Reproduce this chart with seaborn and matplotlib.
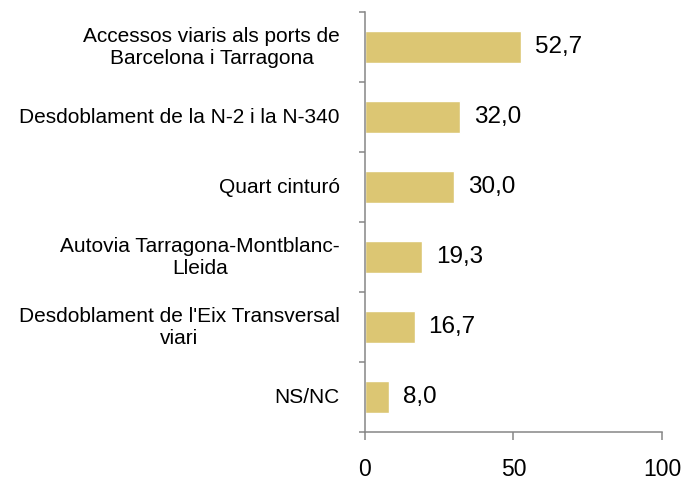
import matplotlib
matplotlib.use("Agg")
import matplotlib.pyplot as plt
import matplotlib.transforms as mtransforms
import seaborn as sns
import pandas as pd

categories = [
    "Accessos viaris als ports de\nBarcelona i Tarragona",
    "Desdoblament de la N-2 i la N-340",
    "Quart cinturó",
    "Autovia Tarragona-Montblanc-\nLleida",
    "Desdoblament de l'Eix Transversal\nviari",
    "NS/NC",
]
values = [52.7, 32.0, 30.0, 19.3, 16.7, 8.0]
xticks = [0, 50, 100]

sns.set_theme(style="white")
plt.rcParams['font.family'] = ['Liberation Sans', 'DejaVu Sans']

df = pd.DataFrame({"cat": categories, "val": values})

fig = plt.figure(figsize=(6.86, 4.82), dpi=100)
ax = fig.add_axes([0.532, 0.1037, 0.433, 0.8713])

sns.barplot(data=df, y="cat", x="val", orient="h", color="#DCC673",
            saturation=1, width=0.47, ax=ax)

ax.set_xlim(0, 100)
ax.set_ylim(len(categories) - 0.5, -0.5)
ax.set_xticks(xticks)
ax.set_xticklabels([str(t) for t in xticks], fontsize=16.5, color="black")
ax.set_xlabel("")
ax.set_ylabel("")

for s in ["top", "right"]:
    ax.spines[s].set_visible(False)
for s in ["left", "bottom"]:
    ax.spines[s].set_color("#868686")
    ax.spines[s].set_linewidth(1.1)

ax.tick_params(axis="x", which="major", direction="out", length=6, width=1.1,
               color="#868686", pad=13, bottom=True)
ax.set_yticks(range(len(categories)))
ax.set_yticklabels([""] * len(categories))
ax.tick_params(axis="y", which="major", length=0)
ax.set_yticks([i - 0.5 for i in range(len(categories) + 1)], minor=True)
ax.tick_params(axis="y", which="minor", direction="out", length=4, width=1.1,
               color="#868686", left=True)

trans = mtransforms.offset_copy(ax.get_yaxis_transform(), fig=fig,
                                x=-18, y=0, units="points")
for i, cat in enumerate(categories):
    ax.text(0, i, cat, transform=trans, ha="right", va="center",
            multialignment="center", fontsize=15, color="black")

ax.bar_label(ax.containers[0],
             labels=[f"{v:.1f}".replace(".", ",") for v in values],
             padding=10, fontsize=17.5, color="black")

fig.savefig("out.png", dpi=100)
